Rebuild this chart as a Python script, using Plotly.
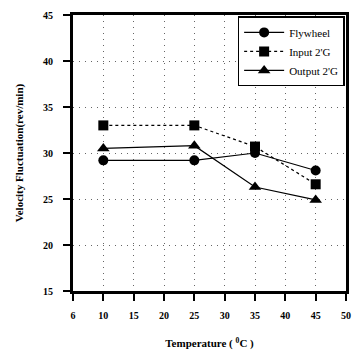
import plotly.graph_objects as go

temps = [10, 25, 35, 45]
flywheel = [29.2, 29.2, 30.0, 28.1]
input2g = [33.0, 33.0, 30.7, 26.6]
output2g = [30.5, 30.8, 26.3, 24.9]

x_ticks = [5, 10, 15, 20, 25, 30, 35, 40, 45, 50]
x_labels = ["<b>6</b>", "<b>10</b>", "<b>15</b>", "<b>20</b>", "<b>25</b>", "<b>30</b>",
            "<b>35</b>", "<b>40</b>", "<b>45</b>", "<b>50</b>"]
y_ticks = [15, 20, 25, 30, 35, 40, 45]
y_labels = ["<b>15</b>", "<b>20</b>", "<b>25</b>", "<b>30</b>", "<b>35</b>", "<b>40</b>", "<b>45</b>"]

font_fam = "Liberation Serif, DejaVu Serif, serif"

fig = go.Figure()
fig.add_trace(go.Scatter(x=temps, y=flywheel, name="Flywheel", mode="lines+markers",
                         line=dict(color="black", width=1.2, dash="solid"),
                         marker=dict(symbol="circle", size=10, color="black")))
fig.add_trace(go.Scatter(x=temps, y=input2g, name="Input 2'G", mode="lines+markers",
                         line=dict(color="black", width=1.2, dash="dot"),
                         marker=dict(symbol="square", size=10, color="black")))
fig.add_trace(go.Scatter(x=temps, y=output2g, name="Output 2'G", mode="lines+markers",
                         line=dict(color="black", width=1.2, dash="solid"),
                         marker=dict(symbol="triangle-up", size=11, color="black")))

fig.update_layout(
    width=360, height=358,
    margin=dict(l=73, r=9, t=10, b=66),
    paper_bgcolor="white", plot_bgcolor="white",
    font=dict(family=font_fam, color="black", size=10),
    showlegend=True,
    legend=dict(x=0.995, y=0.995, xanchor="right", yanchor="top",
                bgcolor="white", bordercolor="black", borderwidth=1.5,
                font=dict(size=11, family=font_fam), tracegroupgap=0,
                itemwidth=40),
    xaxis=dict(range=[5, 50], tickvals=x_ticks, ticktext=x_labels,
               ticks="outside", ticklen=7, tickwidth=1.5, tickcolor="black",
               ticklabelstandoff=6,
               showline=True, linecolor="black", linewidth=3, mirror=True,
               showgrid=True, gridcolor="#666", griddash="1px,5px", gridwidth=1,
               zeroline=False,
               tickfont=dict(size=10, family=font_fam),
               title=dict(text="<b>Temperature ( <sup>0</sup>C )</b>", font=dict(size=11), standoff=20)),
    yaxis=dict(range=[15, 45], tickvals=y_ticks, ticktext=y_labels,
               ticks="outside", ticklen=7, tickwidth=1.5, tickcolor="black",
               ticklabelstandoff=8,
               showline=True, linecolor="black", linewidth=3, mirror=True,
               showgrid=True, gridcolor="#666", griddash="1px,5px", gridwidth=1,
               zeroline=False,
               tickfont=dict(size=10, family=font_fam),
               title=dict(text="<b>Velocity Fluctuation(rev/min)</b>", font=dict(size=11), standoff=18)),
)

fig.write_html("out.html")
